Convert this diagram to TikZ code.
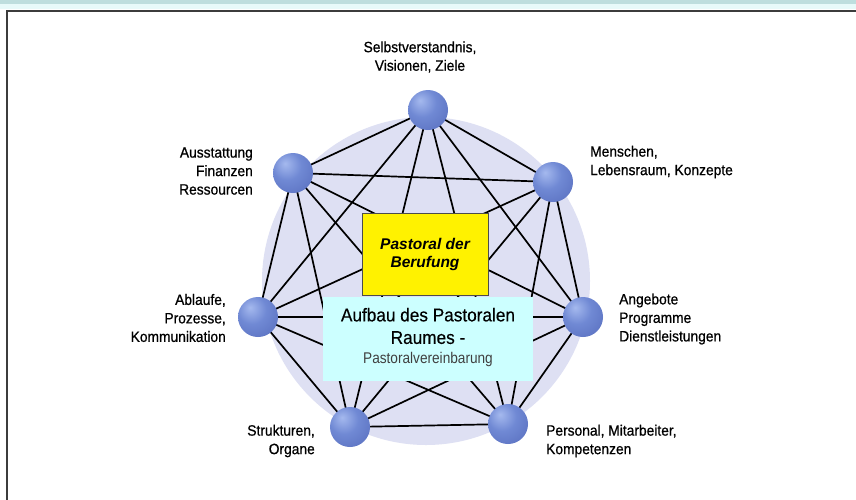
\documentclass[tikz,border=0pt]{standalone}
\usepackage{fontspec}
\setmainfont{Liberation Sans}
\newfontfamily\labfont{Liberation Sans}[FakeStretch=0.92,FakeBold=0.7]
\newfontfamily\cenfont{Liberation Sans}[FakeStretch=0.93,FakeBold=0.3]
\newfontfamily\narfont{Liberation Sans}[FakeStretch=0.88]
\usetikzlibrary{shadings}
\definecolor{bandteal}{RGB}{190,222,222}
\definecolor{bandlight}{RGB}{232,250,250}
\definecolor{circfill}{RGB}{222,224,243}
\definecolor{cyanbox}{RGB}{204,255,255}
\definecolor{framegray}{RGB}{60,60,60}
\definecolor{ballhi}{RGB}{165,185,238}
\definecolor{ballmid}{RGB}{112,137,212}
\definecolor{balllow}{RGB}{88,110,190}
\definecolor{balledge}{RGB}{62,78,152}
\pgfdeclareradialshading{myball}{\pgfpoint{-10bp}{12bp}}{%
  color(0bp)=(ballhi); color(18bp)=(ballmid); color(42bp)=(balllow);
  color(62bp)=(balledge); color(80bp)=(balledge)}
\tikzset{
  ball/.style={circle, minimum size=40pt, inner sep=0pt, shading=myball},
  conn/.style={line width=1.7pt, black},
  lab/.style={font=\labfont\fontsize{15}{18.5}\selectfont, inner sep=0pt},
}
\begin{document}
\begin{tikzpicture}[x=1pt,y=-1pt]
\useasboundingbox (0,0) rectangle (856,499);
\fill[white] (0,0) rectangle (856,499);
% top band
\fill[bandlight] (0,0) rectangle (856,9);
\fill[bandteal] (0,0) rectangle (856,3.5);
% frame
\draw[framegray, line width=1.4pt] (7,510) -- (7,11) -- (870,11);
% background circle
\fill[circfill] (426,281) circle (164);
% sphere positions
\coordinate (pT) at (428,110);
\coordinate (pUR) at (553,182);
\coordinate (pR) at (583,317);
\coordinate (pBR) at (508,424);
\coordinate (pBL) at (350,427);
\coordinate (pL) at (258,317);
\coordinate (pUL) at (293,173);
% connectors (complete graph)
\foreach \a/\b in {pT/pUR,pT/pR,pT/pBR,pT/pBL,pT/pL,pT/pUL,
                   pUR/pR,pUR/pBR,pUR/pBL,pUR/pL,pUR/pUL,
                   pR/pBR,pR/pBL,pR/pL,pR/pUL,
                   pBR/pBL,pBR/pL,pBR/pUL,
                   pBL/pL,pBL/pUL,
                   pL/pUL}
  \draw[conn] (\a) -- (\b);
% boxes
\node[draw=black!70, line width=0.6pt, fill=yellow, minimum width=126pt, minimum height=82pt, inner sep=0pt,
      font=\bfseries\itshape\fontsize{15.5}{18}\selectfont, align=center] (yel) at (425,254)
  {Pastoral der\\Berufung};
\node[fill=cyanbox, minimum width=210pt, minimum height=84pt, inner sep=0pt] (cyb) at (428,339) {};
\node[font=\cenfont\fontsize{18.5}{22.5}\selectfont, align=center, inner sep=0pt] (cyt1) at (428,326)
  {Aufbau des Pastoralen\\Raumes -};
\node[font=\narfont\fontsize{15.5}{18}\selectfont, text=black!75, inner sep=0pt] (cyt2) at (428,359)
  {Pastoralvereinbarung};
% spheres
\node[ball] (sT) at (pT) {};
\node[ball] (sUR) at (pUR) {};
\node[ball] (sR) at (pR) {};
\node[ball] (sBR) at (pBR) {};
\node[ball] (sBL) at (pBL) {};
\node[ball] (sL) at (pL) {};
\node[ball] (sUL) at (pUL) {};
% labels
\node[lab, align=center] (lT) at (420,57) {Selbstverstandnis,\\Visionen, Ziele};
\node[lab, align=right, anchor=east] (lUL) at (253,171) {Ausstattung\\Finanzen\\Ressourcen};
\node[lab, align=left, anchor=west] (lUR) at (590,162) {Menschen,\\Lebensraum, Konzepte};
\node[lab, align=right, anchor=east] (lL) at (226,318) {Ablaufe,\\Prozesse,\\Kommunikation};
\node[lab, align=left, anchor=west] (lR) at (619,319) {Angebote\\Programme\\Dienstleistungen};
\node[lab, align=right, anchor=east] (lBL) at (315,441) {Strukturen,\\Organe};
\node[lab, align=left, anchor=west] (lBR) at (546,441) {Personal, Mitarbeiter,\\Kompetenzen};
\end{tikzpicture}
\end{document}
